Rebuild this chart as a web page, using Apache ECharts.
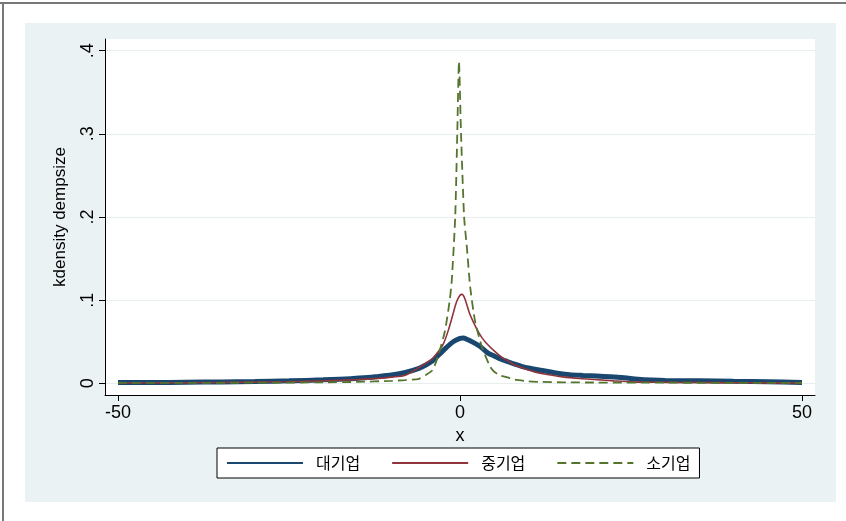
<!DOCTYPE html>
<html>
<head>
<meta charset="utf-8">
<script src="https://cdn.jsdelivr.net/npm/echarts@6/dist/echarts.min.js"></script>
<style>
  html, body { margin:0; padding:0; background:#fff; }
  #wrap { position:relative; width:846px; height:521px; overflow:hidden; background:#fff; }
  #panel { position:absolute; left:25px; top:23px; width:811px; height:479px; background:#eaf2f3; }
  #topline { position:absolute; left:0; top:2px; width:846px; height:2px; background:#777; }
  #leftline { position:absolute; left:2px; top:2px; width:2px; height:519px; background:#777; }
  #chart { position:absolute; left:0; top:0; width:846px; height:521px; }
</style>
</head>
<body>
<div id="wrap">
  <div id="panel"></div>
  <div id="topline"></div>
  <div id="leftline"></div>
  <div id="chart"></div>
</div>
<script>
// ---- data ----
const seriesNames = ['대기업', '중기업', '소기업'];
const xTicks = [-50, 0, 50];
const yTicks = [0, 0.1, 0.2, 0.3, 0.4];
const yTickLabels = ['0', '.1', '.2', '.3', '.4'];

const largeX = [-50,-45,-40,-35,-30,-25,-20,-16,-14,-12,-10,-8,-6,-5,-4,-3,-2,-1,0,0.5,1,2,3,4,5,6,7,8,9,10,12,14,16,18,20,22,24,26,28,30,35,40,45,50];
const largeY = [0.001,0.001,0.0013,0.0017,0.0022,0.003,0.0042,0.0055,0.0067,0.0082,0.010,0.013,0.018,0.022,0.027,0.035,0.043,0.050,0.054,0.0545,0.053,0.049,0.044,0.037,0.033,0.029,0.026,0.023,0.0205,0.0185,0.0155,0.0125,0.0105,0.0095,0.0087,0.0078,0.0066,0.005,0.004,0.0034,0.003,0.0025,0.002,0.001];

const mediumX = [-50,-40,-30,-25,-20,-15,-12,-10,-8,-6,-5,-4,-3,-2.4,-1.7,-1,-0.5,0,0.3,0.7,1.4,2,2.6,3.2,3.9,5,6,7,8,9,10,11,12.5,15,17.5,20,22.5,25,30,35,40,45,50];
const mediumY = [0.0005,0.0008,0.0015,0.002,0.003,0.0045,0.006,0.0075,0.0098,0.019,0.024,0.030,0.040,0.048,0.064,0.084,0.098,0.106,0.107,0.102,0.084,0.073,0.063,0.055,0.048,0.039,0.032,0.027,0.022,0.019,0.016,0.0135,0.011,0.0078,0.0058,0.0045,0.003,0.0018,0.0012,0.001,0.0008,0.0006,0.0005];

const smallX = [-50,-40,-30,-20,-15,-10,-8,-6,-5,-4,-3.2,-2.2,-1.5,-1.2,-0.7,-0.4,-0.15,0.15,0.6,1.0,1.5,2.2,3.2,4.4,5,6,6.8,8,10,12,15,20,30,40,50];
const smallY = [0.0005,0.0006,0.0008,0.0012,0.0018,0.003,0.004,0.0055,0.010,0.016,0.033,0.063,0.10,0.124,0.2,0.3,0.387,0.3,0.2,0.164,0.115,0.075,0.044,0.02,0.014,0.009,0.0076,0.0045,0.0025,0.0017,0.0012,0.001,0.0008,0.0006,0.0005];

// ---- chart ----
const pairs = (xs, ys) => xs.map((x, i) => [x, ys[i]]);
const latin = '"Liberation Sans", Arial, sans-serif';
const chart = echarts.init(document.getElementById('chart'), null, { renderer: 'canvas' });
chart.setOption({
  animation: false,
  backgroundColor: 'transparent',
  grid: { left: 105, right: 31, top: 39, bottom: 126, show: true, backgroundColor: '#fff', borderWidth: 0, containLabel: false, outerBoundsMode: 'none' },
  xAxis: {
    type: 'value', min: -51.9, max: 51.9,
    name: 'x', nameLocation: 'middle', nameGap: 31,
    nameTextStyle: { fontFamily: latin, fontSize: 18, color: '#000' },
    axisLine: { show: true, onZero: false, lineStyle: { color: '#000', width: 1 } },
    axisTick: { show: true, length: 6, customValues: xTicks, lineStyle: { color: '#000', width: 1 } },
    axisLabel: { customValues: xTicks, margin: 9, fontFamily: latin, fontSize: 18, color: '#000', formatter: v => String(v) },
    splitLine: { show: false }
  },
  yAxis: {
    type: 'value', min: -0.014, max: 0.414,
    name: 'kdensity dempsize', nameLocation: 'middle', nameGap: 36, nameRotate: 90,
    nameTextStyle: { fontFamily: latin, fontSize: 17, color: '#000' },
    axisLine: { show: true, onZero: false, lineStyle: { color: '#000', width: 1 } },
    axisTick: { show: true, length: 6, customValues: yTicks, lineStyle: { color: '#000', width: 1 } },
    axisLabel: { customValues: yTicks, rotate: 90, margin: 8, fontFamily: latin, fontSize: 18, color: '#000',
      formatter: v => { const i = yTicks.findIndex(t => Math.abs(t - v) < 1e-9); return i >= 0 ? yTickLabels[i] : ''; } },
    splitLine: { show: true, lineStyle: { color: '#e6eef0', width: 1 } }
  },
  legend: {
    left: 217, top: 448,
    padding: [7, 9, 7, 9],
    itemWidth: 76, itemHeight: 14, itemGap: 31,
    backgroundColor: '#fff', borderColor: '#000', borderWidth: 1, borderRadius: 0,
    itemStyle: { opacity: 0 },
    formatter: n => '\u2002' + n,
    textStyle: { fontFamily: '"Noto Sans CJK KR", sans-serif', fontSize: 16, color: '#000' },
    data: seriesNames
  },
  series: [
    { name: seriesNames[0], type: 'line', data: pairs(largeX, largeY), symbol: 'none', showSymbol: false, smooth: 0.3,
      lineStyle: { color: '#1a476f', width: 5 }, itemStyle: { color: '#1a476f' } },
    { name: seriesNames[1], type: 'line', data: pairs(mediumX, mediumY), symbol: 'none', showSymbol: false, smooth: 0.3,
      lineStyle: { color: '#90353b', width: 1.6 }, itemStyle: { color: '#90353b' } },
    { name: seriesNames[2], type: 'line', data: pairs(smallX, smallY), symbol: 'none', showSymbol: false, smooth: 0.2,
      lineStyle: { color: '#55752f', width: 1.8, type: [9, 5] }, itemStyle: { color: '#55752f' } }
  ]
});
</script>
</body>
</html>
